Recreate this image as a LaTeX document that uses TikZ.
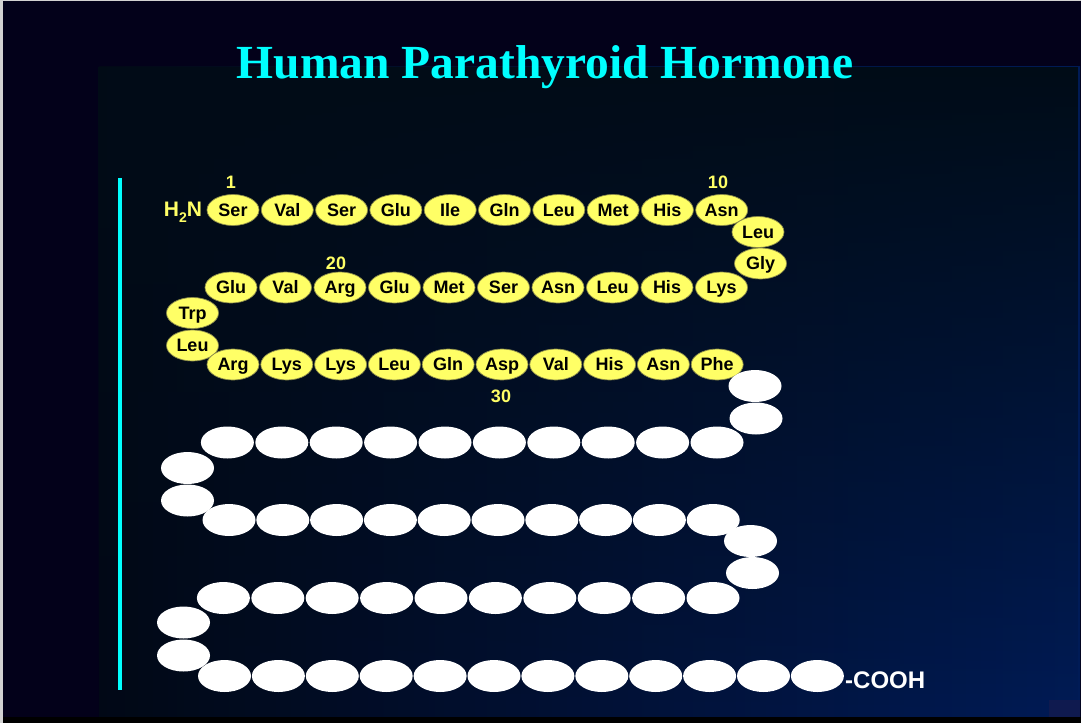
\documentclass[tikz,border=0pt]{standalone}
\usepackage{fontspec}
\setmainfont{Liberation Serif}
\setsansfont{Liberation Sans}
\usetikzlibrary{shapes.geometric,fadings}
\definecolor{outerbg}{HTML}{03011A}
\definecolor{innerL}{HTML}{020816}
\definecolor{innerM}{HTML}{00174A}
\definecolor{innerR}{HTML}{001B56}
\definecolor{innerTop}{HTML}{010C17}
\definecolor{aayellow}{HTML}{FFFF66}
\definecolor{aaedge}{HTML}{8C8C4A}
\definecolor{labyellow}{HTML}{FFFF66}
\definecolor{titlecyan}{HTML}{00FFFF}
\definecolor{cornerbox}{HTML}{0F1A4F}
\tikzfading[name=fadedown, top color=transparent!0, bottom color=transparent!100]
\begin{document}
\begin{tikzpicture}[x=1pt,y=-1pt,
  aa/.style={ellipse, draw=aaedge, line width=0.7pt, fill=aayellow,
    minimum width=52pt, minimum height=31pt, inner sep=0pt, text=black,
    font=\sffamily\bfseries\fontsize{18}{18}\selectfont,
    text height=12.5pt, text depth=0.5pt},
  wa/.style={ellipse, fill=white, minimum width=53pt, minimum height=32pt, inner sep=0pt},
  num/.style={text=labyellow, font=\sffamily\bfseries\fontsize{18}{18}\selectfont,
    inner sep=0pt, anchor=base}]
\useasboundingbox (0,0) rectangle (1081,723);
% background
\fill[outerbg] (0,0) rectangle (1081,723);
\shade[left color=innerL, middle color=innerM, right color=innerR] (99,66) rectangle (1080,717);
\fill[innerTop, path fading=fadedown] (99,66) rectangle (1080,717);
\fill[cornerbox] (1049,700) rectangle (1080,717);
\fill[black] (0,717) rectangle (1081,723);
\fill[gray!35] (0,0) rectangle (2.5,723);
\fill[gray!35] (0,0) rectangle (1081,1.2);
% title
\node[anchor=base, text=titlecyan, inner sep=0pt,
  font=\rmfamily\bfseries\fontsize{47.5}{47.5}\selectfont] (title) at (545,78) {Human Parathyroid Hormone};
% vertical line
\coordinate (ltop) at (120,178);
\coordinate (lbot) at (120,690);
\draw[titlecyan, line width=4pt] (ltop) -- (lbot);
% yellow residues
\foreach \t [count=\k from 0] in {Ser,Val,Ser,Glu,Ile,Gln,Leu,Met,His,Asn}{
  \pgfmathtruncatemacro\r{1+\k}
  \node[aa] (a\r) at ({233+54.3*\k},210) {\t};}
\node[aa] (a11) at (758,232) {Leu};
\node[aa] (a12) at (760.5,263.5) {Gly};
\foreach \t [count=\k from 0] in {Glu,Val,Arg,Glu,Met,Ser,Asn,Leu,His,Lys}{
  \pgfmathtruncatemacro\r{22-\k}
  \node[aa] (a\r) at ({231+54.5*\k},287.5) {\t};}
\node[aa] (a23) at (192.5,313) {Trp};
\node[aa] (a24) at (192.5,345.5) {Leu};
\foreach \t [count=\k from 0] in {Arg,Lys,Lys,Leu,Gln,Asp,Val,His,Asn,Phe}{
  \pgfmathtruncatemacro\r{25+\k}
  \node[aa] (a\r) at ({233+53.8*\k},364.5) {\t};}
% white residues
\node[wa] (a35) at (755,386) {};
\node[wa] (a36) at (756,418.5) {};
\foreach \k in {0,...,9}{
  \pgfmathtruncatemacro\r{37+\k}
  \node[wa] (a\r) at ({717-54.4*\k},442.5) {};}
\node[wa] (a47) at (187.5,468) {};
\node[wa] (a48) at (187.5,500.5) {};
\foreach \k in {0,...,9}{
  \pgfmathtruncatemacro\r{49+\k}
  \node[wa] (a\r) at ({229+53.8*\k},520) {};}
\node[wa] (a59) at (750.5,541) {};
\node[wa] (a60) at (752.5,573) {};
\foreach \k in {0,...,9}{
  \pgfmathtruncatemacro\r{61+\k}
  \node[wa] (a\r) at ({713-54.4*\k},598) {};}
\node[wa] (a71) at (183.5,622.5) {};
\node[wa] (a72) at (183.5,655.5) {};
\foreach \k in {0,...,11}{
  \pgfmathtruncatemacro\r{73+\k}
  \node[wa] (a\r) at ({224.5+53.9*\k},676) {};}
% labels
\node[num] (n1) at (231,188) {1};
\node[num] (n10) at (718,188) {10};
\node[num] (n20) at (336,269) {20};
\node[num] (n30) at (501,402) {30};
\node[anchor=base, text=labyellow, inner sep=0pt,
  font=\sffamily\bfseries\fontsize{21}{21}\selectfont] (h2n) at (183,216.5)
  {H\raisebox{-0.28em}{\fontsize{14}{14}\selectfont 2}N};
\node[anchor=base west, text=white, inner sep=0pt,
  font=\sffamily\bfseries\fontsize{24}{24}\selectfont] (cooh) at (845,688.5) {-COOH};
\end{tikzpicture}
\end{document}
